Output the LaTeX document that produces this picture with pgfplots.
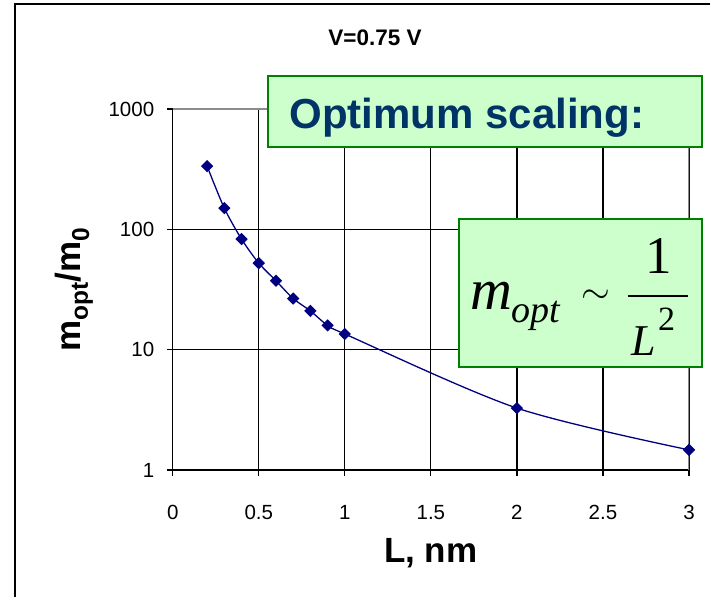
\documentclass[border=0pt]{standalone}
\usepackage{pgfplots}
\pgfplotsset{compat=1.18}
\usepackage{fontspec}
\setmainfont{Liberation Sans}
\newfontfamily\tnr{Liberation Serif}
\definecolor{navy}{HTML}{000080}
\definecolor{boxgreen}{HTML}{CCFFCC}
\definecolor{boxedge}{HTML}{008000}
\definecolor{textblue}{HTML}{003366}
\definecolor{edgegray}{HTML}{8C8C8C}

\begin{document}
\begin{tikzpicture}[x=1pt,y=1pt]
\path[use as bounding box] (0,0) rectangle (710,597);
% outer frame (only left and top edges are in the picture)
\draw[line width=1.6pt] (15,-10) -- (15,593) -- (720,593);
\node[font=\bfseries\fontsize{22.5}{26}\selectfont] at (375,559.5) {V=0.75 V};

\begin{axis}[
  at={(172.7pt,127pt)}, anchor=south west,
  scale only axis, width=516.3pt, height=361pt,
  xmin=0, xmax=3, ymin=1, ymax=1000, ymode=log,
  xtick={0,0.5,1,1.5,2,2.5,3},
  xticklabels={0,0.5,1,1.5,2,2.5,3},
  ytick={1,10,100,1000},
  yticklabels={1,10,100,1000},
  yminorticks=false,
  axis x line*=bottom, axis y line*=left,
  axis line style={black, line width=1.5pt},
  grid=major, major grid style={black, line width=1.2pt},
  tick align=outside, major tick length=6pt,
  tick style={black, line width=1.2pt},
  tick label style={font=\fontsize{20.5}{24}\selectfont},
  xticklabel shift=26pt,
  yticklabel shift=9pt,
  xlabel={L, nm},
  ylabel={m\textsubscript{opt}/m\textsubscript{0}},
  label style={font=\bfseries\fontsize{35}{40}\selectfont},
  xlabel style={at={(axis description cs:0.5,-0.2576)}, anchor=base},
  ylabel style={at={(axis description cs:-0.1785,0.5)}, anchor=base, rotate=0},
]
  \draw[edgegray, line width=1.5pt] (rel axis cs:0,1) -- (rel axis cs:1,1) -- (rel axis cs:1,0);
  \addplot[color=navy, line width=1.3pt, smooth, mark=square*, mark size=3.7pt,
    mark options={rotate=45, solid, fill=navy}] coordinates {
    (0.2,335) (0.3,150) (0.4,83) (0.5,52.4) (0.6,37.4) (0.7,26.6)
    (0.8,21.0) (0.9,15.9) (1.0,13.5) (2,3.27) (3,1.47)
  };
\end{axis}

% "Optimum scaling:" box
\draw[fill=boxgreen, draw=boxedge, line width=2pt] (268,450) rectangle (702,521);
\node[anchor=base west, inner sep=0pt, text=textblue,
  font=\bfseries\fontsize{42}{48}\selectfont] at (289.3,468.7) {Optimum scaling:};

% formula box
\draw[fill=boxgreen, draw=boxedge, line width=2pt] (459,230) rectangle (702,378);
\node[anchor=base west, inner sep=0pt] at (470,287) {\tnr\itshape\fontsize{58}{60}\selectfont m};
\node[anchor=base west, inner sep=0pt] at (511,274) {\tnr\itshape\fontsize{38}{40}\selectfont opt};
\node[inner sep=0pt, scale=3.7] at (596,300.3) {$\sim$};
\draw[line width=2pt] (627.7,301.3) -- (687.7,301.3);
\node[anchor=base, inner sep=0pt] at (658.7,323) {\tnr\fontsize{53}{55}\selectfont 1};
\node[anchor=base west, inner sep=0pt] at (631,241) {\tnr\itshape\fontsize{44}{46}\selectfont L};
\node[anchor=base west, inner sep=0pt] at (658,266.3) {\tnr\fontsize{34}{36}\selectfont 2};
\end{tikzpicture}
\end{document}
